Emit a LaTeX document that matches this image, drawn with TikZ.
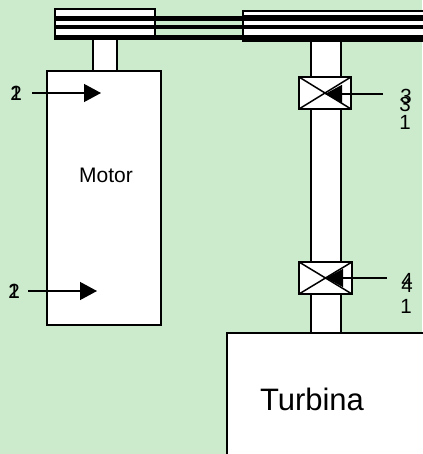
\documentclass[tikz,border=0pt]{standalone}
\usepackage{fontspec}
\setmainfont{Liberation Sans}
\usetikzlibrary{arrows.meta}
\definecolor{bg}{RGB}{204,235,204}
\tikzset{
  part/.style={draw=black,fill=white,line width=2pt},
  boxnode/.style={part,anchor=north west,inner sep=0pt,outer sep=0pt},
  beltline/.style={fill=black},
  pointer/.style={draw=black,line width=1.3pt,-{Triangle[length=17pt,width=18pt]}},
  digit/.style={font=\fontsize{20.5}{21}\selectfont,inner sep=0pt},
  cross/.style={draw=black,line width=1.5pt}
}
\begin{document}
\begin{tikzpicture}[x=1pt,y=-1pt]
\useasboundingbox (0,0) rectangle (422,454);
\fill[bg] (0,0) rectangle (422,454);
% right shaft, motor shaft
\draw[part] (311,41) rectangle (341,333);
\draw[part] (93,38) rectangle (117,71);
% belt between pulleys
\foreach \a/\b in {16.5/21,25.5/29.5,35.5/40}{
  \fill[beltline] (155,\a) rectangle (243,\b);
}
% small pulley
\draw[part] (55,9) rectangle (155,38);
\foreach \a/\b in {16/21.5,25.5/29.5,35.5/40}{
  \fill[beltline] (54,\a) rectangle (156,\b);
}
% large pulley
\draw[part] (243,11) rectangle (424,41);
\foreach \a/\b in {15.5/21,25.5/29.5,35.5/41}{
  \fill[beltline] (242,\a) rectangle (424,\b);
}
% motor
\node[boxnode,minimum width=114pt,minimum height=254pt] (motor) at (47,71) {};
\node[font=\fontsize{21}{22}\selectfont,inner sep=0pt] (motorlabel) at (106,175) {Motor};
% turbine
\node[boxnode,minimum width=200pt,minimum height=125pt] (turbine) at (227,333) {};
\node[font=\fontsize{31}{32}\selectfont,inner sep=0pt] (turbinelabel) at (312,399) {Turbina};
% bearings
\node[boxnode,minimum width=52pt,minimum height=32pt] (b1) at (299,77) {};
\draw[cross] (b1.north west) -- (b1.south east) (b1.north east) -- (b1.south west);
\node[boxnode,minimum width=53pt,minimum height=32pt] (b2) at (299,262) {};
\draw[cross] (b2.north west) -- (b2.south east) (b2.north east) -- (b2.south west);
% arrows
\coordinate (a1s) at (32,93); \coordinate (a1e) at (101,93);
\coordinate (a2s) at (28,291); \coordinate (a2e) at (97,291);
\coordinate (a3s) at (383,94); \coordinate (a3e) at (325,94);
\coordinate (a4s) at (387,278); \coordinate (a4e) at (326,278);
\draw[pointer] (a1s) -- (a1e);
\draw[pointer] (a2s) -- (a2e);
\draw[pointer] (a3s) -- (a3e);
\draw[pointer] (a4s) -- (a4e);
% labels
\node[digit] (l1a) at (16,93) {1};
\node[digit] (l1b) at (16,93) {2};
\node[digit] (l2a) at (14,291) {1};
\node[digit] (l2b) at (14,291) {2};
\node[digit] (l3a) at (406,96) {3};
\node[digit] (l3b) at (405,104) {3};
\node[digit] (l3c) at (405,122) {1};
\node[digit] (l4a) at (407,280.5) {4};
\node[digit] (l4b) at (407,285.5) {4};
\node[digit] (l4c) at (406,306.5) {1};
\end{tikzpicture}
\end{document}
